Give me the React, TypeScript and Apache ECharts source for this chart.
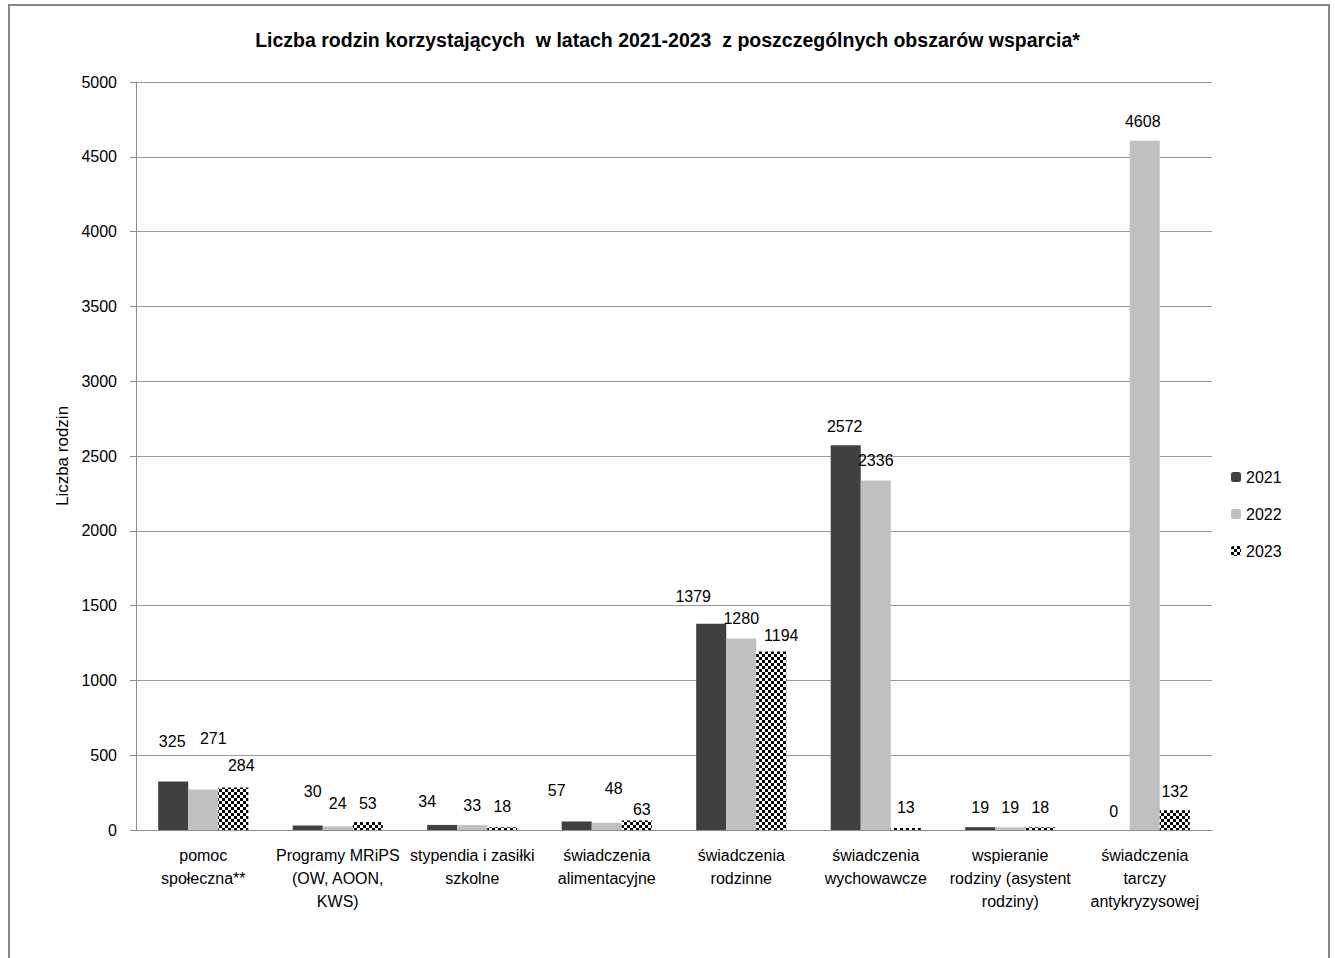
import React, { useEffect, useRef } from "react";
import * as echarts from "echarts";

const categories = [
  "pomoc\nspołeczna**",
  "Programy MRiPS\n(OW, AOON,\nKWS)",
  "stypendia i zasiłki\nszkolne",
  "świadczenia\nalimentacyjne",
  "świadczenia\nrodzinne",
  "świadczenia\nwychowawcze",
  "wspieranie\nrodziny (asystent\nrodziny)",
  "świadczenia\ntarczy\nantykryzysowej",
];
const years = ["2021", "2022", "2023"];
const values2021 = [325, 30, 34, 57, 1379, 2572, 19, 0];
const values2022 = [271, 24, 33, 48, 1280, 2336, 19, 4608];
const values2023 = [284, 53, 18, 63, 1194, 13, 18, 132];
const yTicks = { min: 0, max: 5000, interval: 500 };

// label nudges (style only) [dx, dy]
const nudges2021 = [[-1, -21], [5, -15], [-15, -4], [-20, -12], [-18, -8], [-1, 0], [0, -1], [-1, 0]];
const nudges2022 = [[10, -32], [0, -4], [0, -1], [7, -15], [0, -1], [0, -1], [0, -1], [-2, 0]];
const nudges2023 = [[8, -3], [0, 0], [0, -2], [5, 8], [10, 3], [0, -2], [0, -1], [0, 0]];

const FONT = "'Liberation Sans', Arial, sans-serif";

function makeChecker() {
  const c = document.createElement("canvas");
  c.width = 6;
  c.height = 6;
  const ctx = c.getContext("2d")!;
  ctx.fillStyle = "#ffffff";
  ctx.fillRect(0, 0, 6, 6);
  ctx.fillStyle = "#000000";
  ctx.fillRect(0, 0, 3, 3);
  ctx.fillRect(3, 3, 3, 3);
  return c;
}

export default function App() {
  const ref = useRef<HTMLDivElement>(null);
  useEffect(() => {
    document.body.style.margin = "0";
    const chart = echarts.init(ref.current!, undefined, { renderer: "svg" });
    const checker = makeChecker();
    const mkData = (vals: number[], nudges: number[][]) =>
      vals.map((v, i) => ({ value: v, label: { offset: nudges[i] } }));
    const labelBase = {
      show: true,
      position: "top" as const,
      distance: 11,
      fontFamily: FONT,
      fontSize: 16,
      color: "#000",
    };
    const colors = ["#404040", "#c0c0c0", { image: checker, repeat: "repeat" }];
    const vals = [values2021, values2022, values2023];
    const nud = [nudges2021, nudges2022, nudges2023];
    chart.setOption({
      animation: false,
      backgroundColor: "#fff",
      title: {
        text: "Liczba rodzin korzystających  w latach 2021-2023  z poszczególnych obszarów wsparcia*",
        left: "center",
        top: 25,
        textStyle: { fontFamily: FONT, fontSize: 19.5, fontWeight: "bold", color: "#000" },
      },
      legend: {
        orient: "vertical",
        left: 1231,
        top: 469,
        padding: 0,
        itemWidth: 10,
        itemHeight: 10,
        itemGap: 21,
        textStyle: { fontFamily: FONT, fontSize: 16, color: "#000" },
        data: years,
      },
      grid: { left: 136, right: 123, top: 82, bottom: 128, containLabel: false },
      xAxis: {
        type: "category",
        data: categories,
        axisLine: { lineStyle: { color: "#8c8c8c", width: 1 } },
        axisTick: { show: false },
        axisLabel: {
          interval: 0,
          margin: 14,
          fontFamily: FONT,
          fontSize: 16,
          lineHeight: 23,
          color: "#000",
        },
      },
      yAxis: {
        type: "value",
        min: yTicks.min,
        max: yTicks.max,
        interval: yTicks.interval,
        name: "Liczba rodzin",
        nameLocation: "middle",
        nameGap: 61,
        nameRotate: 90,
        nameTextStyle: { fontFamily: FONT, fontSize: 17, color: "#000" },
        axisLine: { show: true, lineStyle: { color: "#8c8c8c", width: 1 } },
        axisTick: { show: true, length: 6, lineStyle: { color: "#8c8c8c" } },
        axisLabel: {
          fontFamily: FONT,
          fontSize: 16,
          color: "#000",
          margin: 19,
          formatter: (v: number) => String(v),
        },
        splitLine: { lineStyle: { color: "#9a9a9a", width: 1 } },
      },
      series: years.map((y, k) => ({
        name: y,
        type: "bar",
        data: mkData(vals[k], nud[k]),
        barGap: "0%",
        barCategoryGap: "33%",
        itemStyle: { color: colors[k] },
        label: labelBase,
      })),
      graphic: [
        {
          type: "rect",
          shape: { x: 9, y: 5, width: 1320, height: 1000 },
          style: { fill: "none", stroke: "#878787", lineWidth: 2 },
          silent: true,
        },
      ],
    });
    return () => chart.dispose();
  }, []);
  return <div ref={ref} style={{ width: 1335, height: 958 }} />;
}
